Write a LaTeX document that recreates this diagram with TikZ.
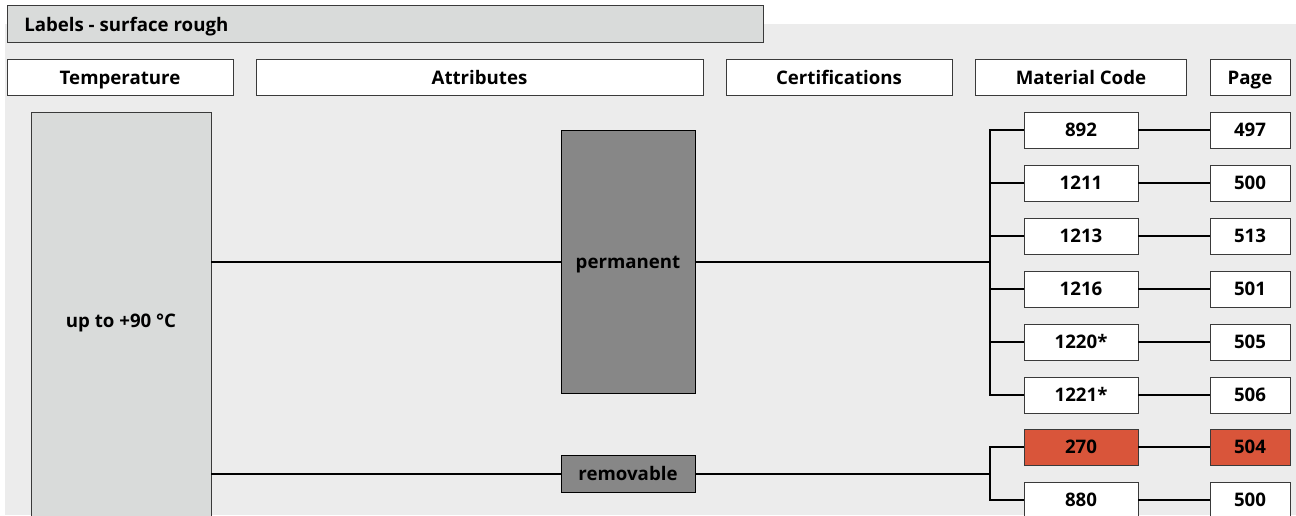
\documentclass[tikz,border=0pt]{standalone}
\usepackage{fontspec}
\setmainfont{Open Sans}
\usepackage{tikz}

\definecolor{bggray}{HTML}{ECECEC}
\definecolor{lightbox}{HTML}{D9DBDA}
\definecolor{darkbox}{HTML}{878787}
\definecolor{redbox}{HTML}{D9553A}
\definecolor{rim}{HTML}{3A3A3A}

\tikzset{
  every node/.style={font=\fontsize{14}{16}\selectfont\bfseries, inner sep=0pt, text height=10pt, text depth=0pt},
  hdr/.style={draw=rim, line width=0.7pt, fill=white, minimum height=36*0.75pt},
  codebox/.style={draw=rim, line width=0.7pt, fill=white, minimum width=114*0.75pt, minimum height=36*0.75pt},
  pagebox/.style={draw=rim, line width=0.7pt, fill=white, minimum width=80*0.75pt, minimum height=36*0.75pt},
  attrbox/.style={draw=black, line width=0.7pt, fill=darkbox, minimum width=134*0.75pt},
  link/.style={black, line width=1pt}
}

\begin{document}
\begin{tikzpicture}[x=0.75pt, y=-0.75pt]
\useasboundingbox (0,0) rectangle (1296,515);
% background
    \fill[bggray] (5,24) rectangle (1296,515);
    \node[draw=rim, line width=0.7pt, fill=lightbox, minimum width=756*0.75pt, minimum height=37*0.75pt] (title) at (385,23.5) {};
    \node[anchor=west] at (24,24.5) {Labels - surface rough};
% column heads
    \node[hdr, minimum width=226*0.75pt] (htemp) at (120,77.5) {Temperature};
    \node[hdr, minimum width=447*0.75pt] (hattr) at (479.5,77.5) {Attributes};
    \node[hdr, minimum width=226*0.75pt] (hcert) at (839,77.5) {Certifications};
    \node[hdr, minimum width=211*0.75pt] (hcode) at (1081,77.5) {Material Code};
    \node[hdr, minimum width=80*0.75pt] (hpage) at (1250,77.5) {Page};
% temperature and attributes
    \node[draw=rim, line width=0.7pt, fill=lightbox, minimum width=180*0.75pt, minimum height=418*0.75pt] (temp) at (121,321) {up to +90 °C};
    \node[attrbox, minimum height=263*0.75pt] (perm) at (628,262) {permanent};
    \node[attrbox, minimum height=37*0.75pt] (remv) at (628,474) {removable};
    \draw[link] (perm.west -| temp.east) -- (perm.west);
    \draw[link] (remv.west -| temp.east) -- (remv.west);
% material codes and pages
    \coordinate (jp) at (990,262);
    \coordinate (jr) at (990,474);
    \draw[link] (perm.east) -- (jp);
    \draw[link] (remv.east) -- (jr);
    \foreach \code/\page [count=\i] in {892/497, 1211/500, 1213/513, 1216/501, 1220*/505, 1221*/506} {
        \node[codebox] (m\i) at (1081,77+53*\i) {\code};
        \node[pagebox] (p\i) at (1250,77+53*\i) {\page};
        \draw[link] (jp) |- (m\i.west);
        \draw[link] (m\i) -- (p\i);
    }
    \node[codebox, fill=redbox] (m7) at (1081,447) {270};
    \node[pagebox, fill=redbox] (p7) at (1250,447) {504};
    \node[codebox] (m8) at (1081,500) {880};
    \node[pagebox] (p8) at (1250,500) {500};
    \draw[link] (jr) |- (m7.west);
    \draw[link] (jr) |- (m8.west);
    \draw[link] (m7) -- (p7);
    \draw[link] (m8) -- (p8);
\end{tikzpicture}
\end{document}
